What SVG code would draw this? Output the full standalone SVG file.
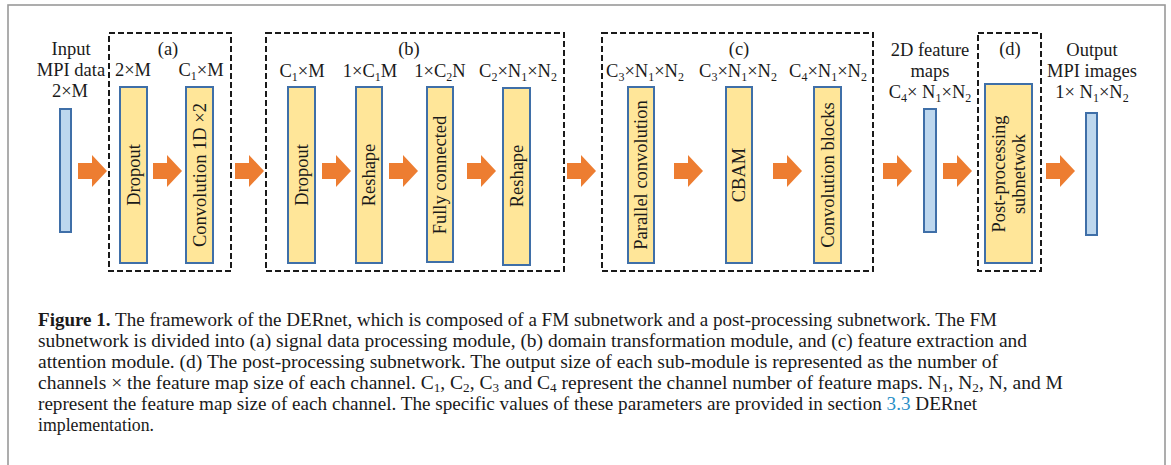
<svg xmlns="http://www.w3.org/2000/svg" width="1171" height="465" viewBox="0 0 1171 465">
<defs>
<style>
text{font-family:"Liberation Serif","Times New Roman",serif;fill:#1a1a1a}
.lbl{font-size:18.5px}
.ctr{text-anchor:middle}
.sub{font-size:12px}
.cap{font-size:17.8px}
.dash{fill:none;stroke:#1a1a1a;stroke-width:2;stroke-dasharray:6,3}
.blk{fill:#ffe699;stroke:#3f6fa8;stroke-width:2}
.bar{fill:#bdd7ee;stroke:#3f6fa8;stroke-width:2}
.arr{fill:#ed7d31}
</style>
<path id="arrow" d="M0,-8 L14,-8 L14,-16 L29,0 L14,16 L14,8 L0,8 Z"/>
</defs>
<rect x="8" y="5" width="1157" height="470" fill="#fff" stroke="#999" stroke-width="1.6"/>

<g id="input">
<text class="lbl ctr" x="71" y="55">Input</text>
<text class="lbl ctr" x="71" y="76">MPI data</text>
<text class="lbl ctr" x="70" y="97">2×M</text>
<rect class="bar" x="60" y="109" width="11" height="123"/>
</g>

<g id="module-a">
<rect class="dash" x="109" y="33" width="122" height="238"/>
<text class="lbl ctr" x="168" y="55">(a)</text>
<text class="lbl ctr" x="133" y="76">2×M</text>
<text class="lbl ctr" x="201" y="76">C<tspan class="sub" dy="4">1</tspan><tspan dy="-4">×M</tspan></text>
<rect class="blk" x="120" y="87" width="27" height="176"/>
<text class="lbl ctr" transform="translate(140,175) rotate(-90)">Dropout</text>
<rect class="blk" x="186" y="87" width="27" height="176"/>
<text class="lbl ctr" transform="translate(206,175) rotate(-90)">Convolution 1D ×2</text>
</g>

<g id="module-b">
<rect class="dash" x="266" y="33" width="298" height="238"/>
<text class="lbl ctr" x="409" y="55">(b)</text>
<text class="lbl ctr" x="302" y="77">C<tspan class="sub" dy="4">1</tspan><tspan dy="-4">×M</tspan></text>
<text class="lbl ctr" x="370" y="77">1×C<tspan class="sub" dy="4">1</tspan><tspan dy="-4">M</tspan></text>
<text class="lbl ctr" x="440" y="77">1×C<tspan class="sub" dy="4">2</tspan><tspan dy="-4">N</tspan></text>
<text class="lbl ctr" x="518" y="77">C<tspan class="sub" dy="4">2</tspan><tspan dy="-4">×N</tspan><tspan class="sub" dy="4">1</tspan><tspan dy="-4">×N</tspan><tspan class="sub" dy="4">2</tspan></text>
<rect class="blk" x="288" y="87" width="27" height="176"/>
<text class="lbl ctr" transform="translate(308,175) rotate(-90)">Dropout</text>
<rect class="blk" x="356" y="87" width="26" height="176"/>
<text class="lbl ctr" transform="translate(375,175) rotate(-90)">Reshape</text>
<rect class="blk" x="427" y="87" width="26" height="175"/>
<text class="lbl ctr" transform="translate(446,175) rotate(-90)">Fully connected</text>
<rect class="blk" x="503" y="88" width="27" height="177"/>
<text class="lbl ctr" transform="translate(523,176) rotate(-90)">Reshape</text>
</g>

<g id="module-c">
<rect class="dash" x="602" y="33" width="271" height="238"/>
<text class="lbl ctr" x="739" y="55">(c)</text>
<text class="lbl ctr" x="645" y="77">C<tspan class="sub" dy="4">3</tspan><tspan dy="-4">×N</tspan><tspan class="sub" dy="4">1</tspan><tspan dy="-4">×N</tspan><tspan class="sub" dy="4">2</tspan></text>
<text class="lbl ctr" x="738" y="77">C<tspan class="sub" dy="4">3</tspan><tspan dy="-4">×N</tspan><tspan class="sub" dy="4">1</tspan><tspan dy="-4">×N</tspan><tspan class="sub" dy="4">2</tspan></text>
<text class="lbl ctr" x="828" y="77">C<tspan class="sub" dy="4">4</tspan><tspan dy="-4">×N</tspan><tspan class="sub" dy="4">1</tspan><tspan dy="-4">×N</tspan><tspan class="sub" dy="4">2</tspan></text>
<rect class="blk" x="628" y="87" width="26" height="176"/>
<text class="lbl ctr" transform="translate(647,175) rotate(-90)">Parallel convolution</text>
<rect class="blk" x="726" y="87" width="26" height="176"/>
<text class="lbl ctr" transform="translate(745,175) rotate(-90)">CBAM</text>
<rect class="blk" x="814" y="87" width="27" height="176"/>
<text class="lbl ctr" transform="translate(834,175) rotate(-90)">Convolution blocks</text>
</g>

<g id="feature-maps">
<text class="lbl ctr" x="930" y="56">2D feature</text>
<text class="lbl ctr" x="930" y="77">maps</text>
<text class="lbl ctr" x="930" y="98">C<tspan class="sub" dy="4">4</tspan><tspan dy="-4">× N</tspan><tspan class="sub" dy="4">1</tspan><tspan dy="-4">×N</tspan><tspan class="sub" dy="4">2</tspan></text>
<rect class="bar" x="924" y="109" width="12" height="123"/>
</g>

<g id="module-d">
<rect class="dash" x="978" y="33" width="63" height="238"/>
<text class="lbl ctr" x="1010" y="55">(d)</text>
<rect class="blk" x="985" y="84" width="47" height="179"/>
<text class="lbl ctr" transform="translate(1005,174) rotate(-90)">Post-processing</text>
<text class="lbl ctr" transform="translate(1025,174) rotate(-90)">subnetwok</text>
</g>

<g id="output">
<text class="lbl ctr" x="1092" y="56">Output</text>
<text class="lbl ctr" x="1092" y="77">MPI images</text>
<text class="lbl ctr" x="1092" y="98">1× N<tspan class="sub" dy="4">1</tspan><tspan dy="-4">×N</tspan><tspan class="sub" dy="4">2</tspan></text>
<rect class="bar" x="1086" y="113" width="11" height="122"/>
</g>

<g id="connectors" class="arr">
<use href="#arrow" x="78" y="171"/>
<use href="#arrow" x="153" y="171"/>
<use href="#arrow" x="235" y="171"/>
<use href="#arrow" x="322" y="171"/>
<use href="#arrow" x="389" y="171"/>
<use href="#arrow" x="467" y="171"/>
<use href="#arrow" x="567" y="171"/>
<use href="#arrow" x="674" y="171"/>
<use href="#arrow" x="773" y="171"/>
<use href="#arrow" x="883" y="171"/>
<use href="#arrow" x="943" y="171"/>
<use href="#arrow" x="1046" y="171"/>
</g>

<g id="caption">
<text class="cap" x="38" y="326" textLength="959" lengthAdjust="spacingAndGlyphs"><tspan font-weight="bold">Figure 1.</tspan> The framework of the DERnet, which is composed of a FM subnetwork and a post-processing subnetwork. The FM</text>
<text class="cap" x="38" y="347" textLength="989" lengthAdjust="spacingAndGlyphs">subnetwork is divided into (a) signal data processing module, (b) domain transformation module, and (c) feature extraction and</text>
<text class="cap" x="38" y="368" textLength="960" lengthAdjust="spacingAndGlyphs">attention module. (d) The post-processing subnetwork. The output size of each sub-module is represented as the number of</text>
<text class="cap" x="38" y="389" textLength="1025" lengthAdjust="spacingAndGlyphs">channels × the feature map size of each channel. C<tspan font-size="12" dy="3">1</tspan><tspan dy="-3">, C</tspan><tspan font-size="12" dy="3">2</tspan><tspan dy="-3">, C</tspan><tspan font-size="12" dy="3">3</tspan><tspan dy="-3"> and C</tspan><tspan font-size="12" dy="3">4</tspan><tspan dy="-3"> represent the channel number of feature maps. N</tspan><tspan font-size="12" dy="3">1</tspan><tspan dy="-3">, N</tspan><tspan font-size="12" dy="3">2</tspan><tspan dy="-3">, N, and M</tspan></text>
<text class="cap" x="38" y="410" textLength="939" lengthAdjust="spacingAndGlyphs">represent the feature map size of each channel. The specific values of these parameters are provided in section <tspan fill="#2a8fc7">3.3</tspan> DERnet</text>
<text class="cap" x="38" y="431">implementation.</text>
</g>
</svg>
